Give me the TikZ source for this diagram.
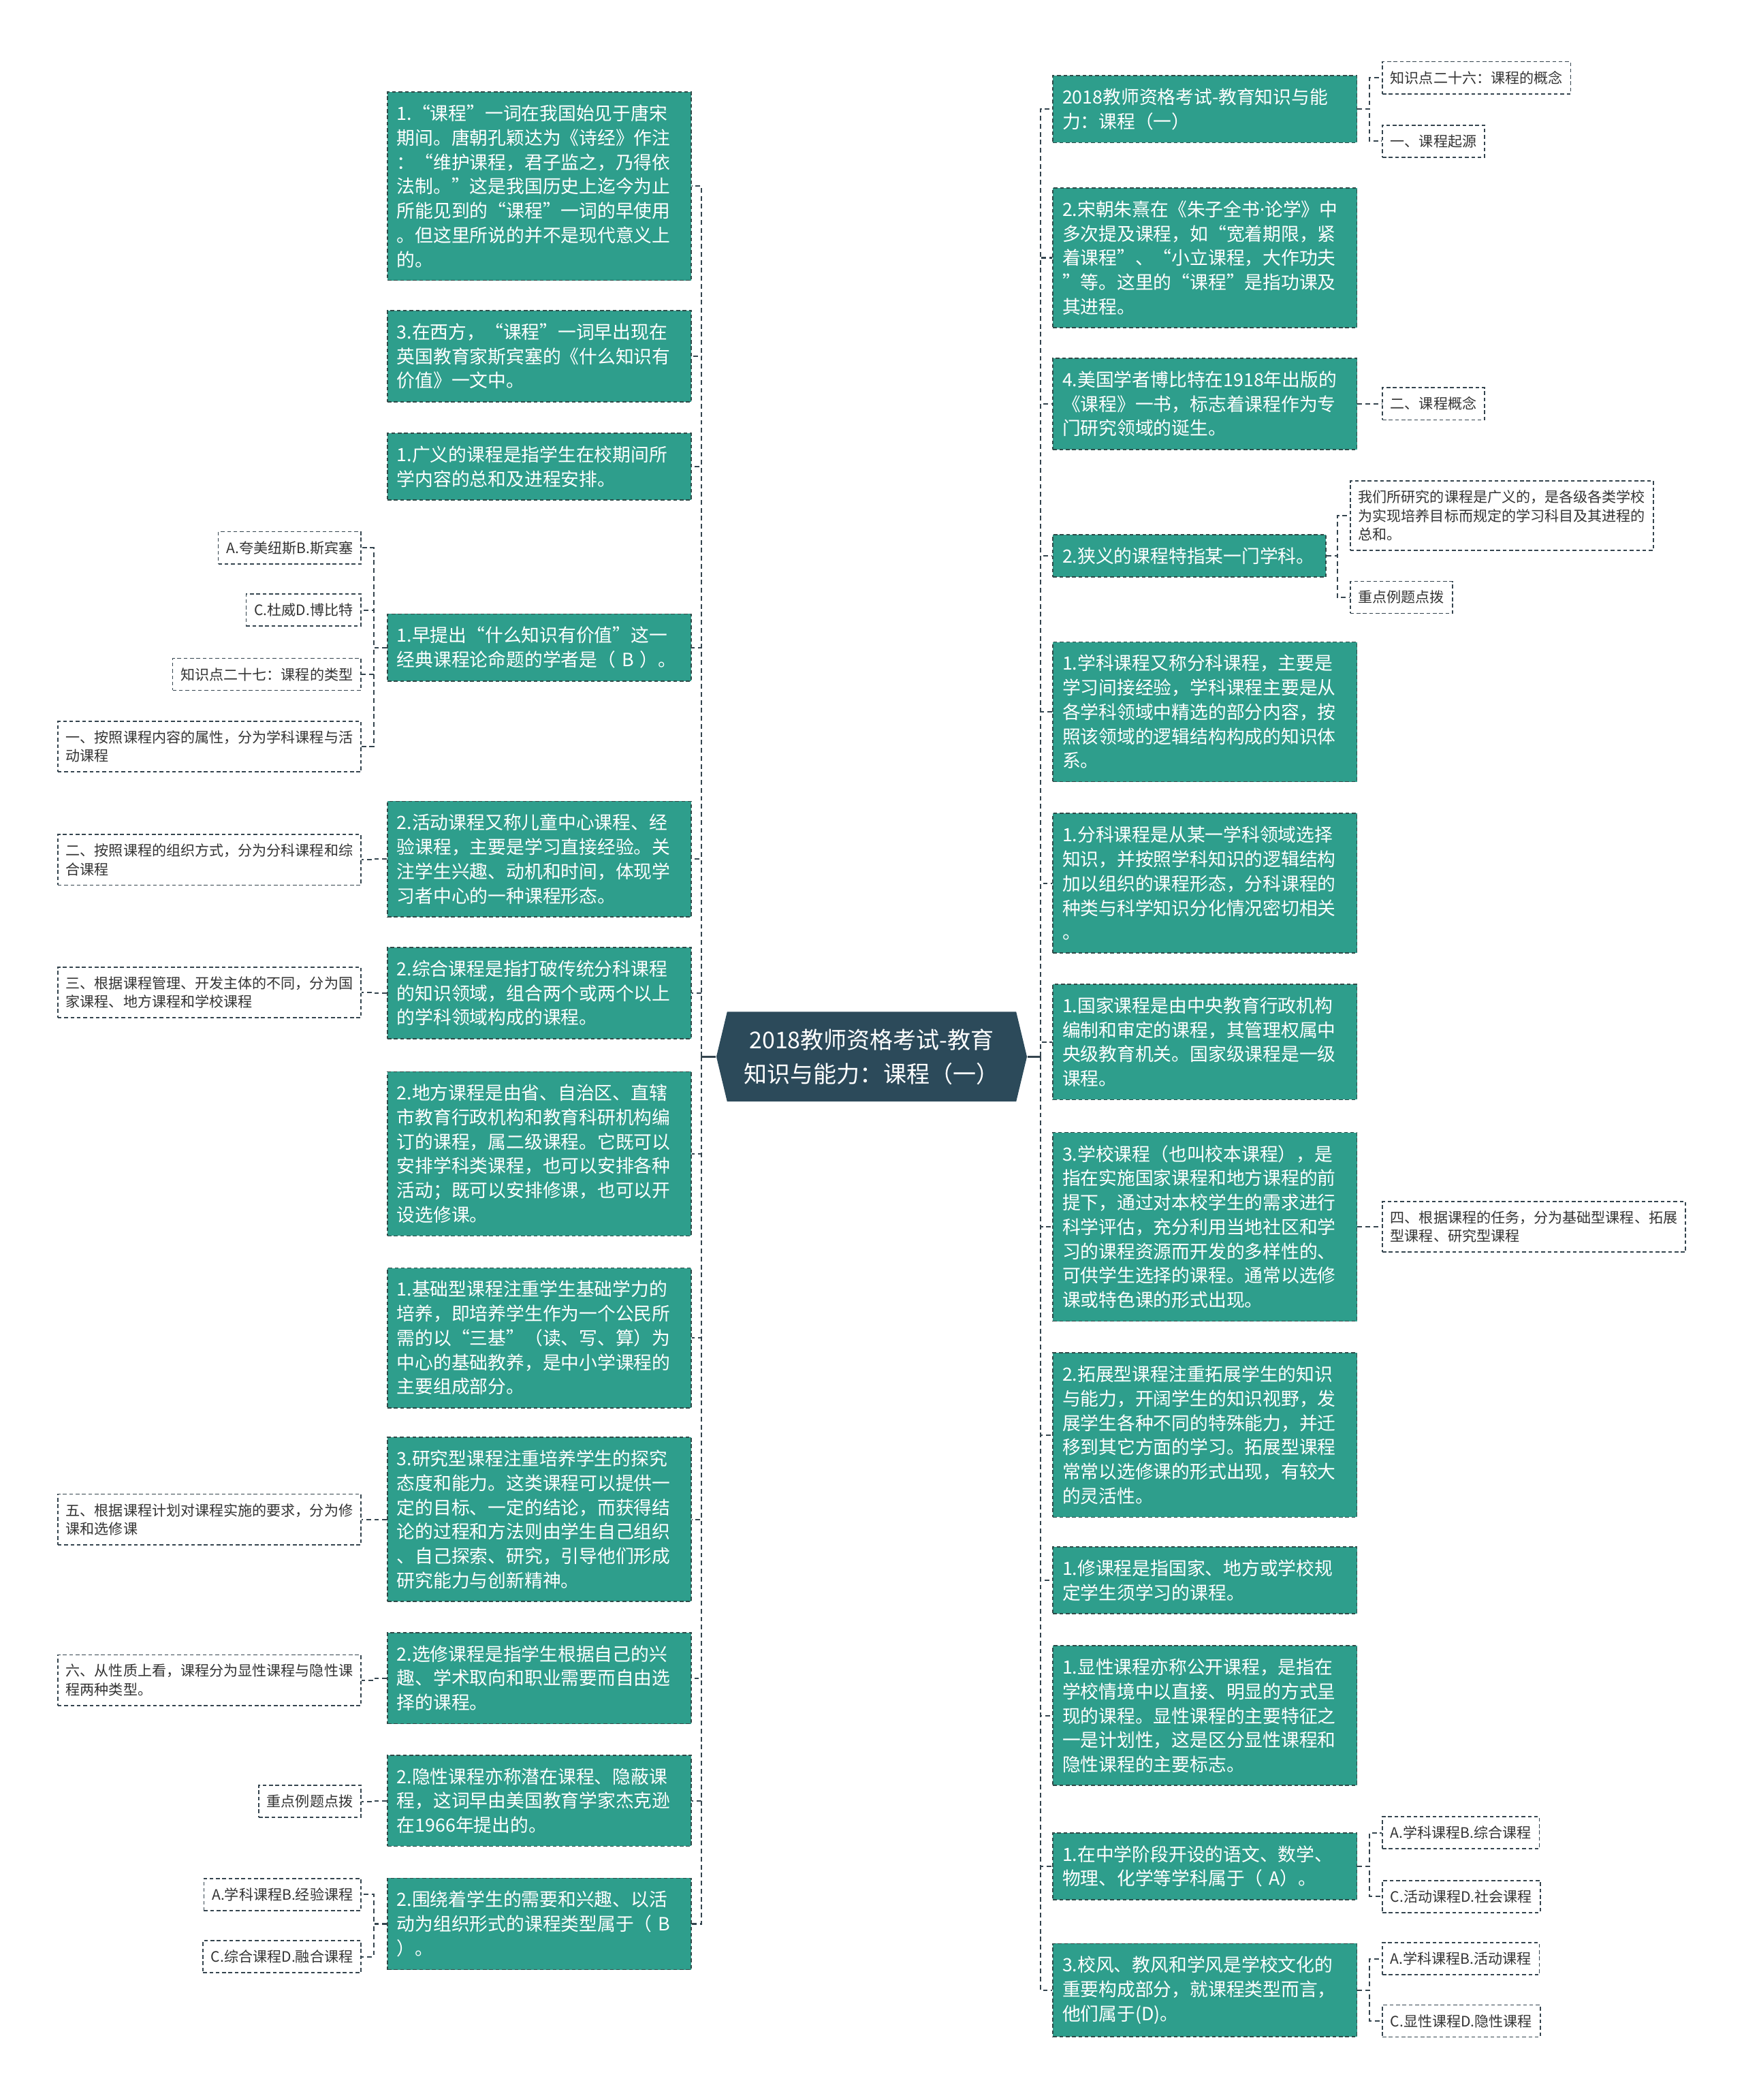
\documentclass[tikz,border=0pt]{standalone}
\usepackage{fontspec}
\setmainfont{Noto Sans CJK SC}
\newfontfamily\latinfont{Noto Sans}
\usepackage{tikz}
\usetikzlibrary{shapes.symbols, positioning}
\definecolor{Teal}  {HTML}{2E9E8C}
\definecolor{Slate} {HTML}{2C4A5A}
\definecolor{Edge}  {HTML}{2F4A48}
\definecolor{Grey}  {HTML}{34444E}
\definecolor{Ink}   {HTML}{333333}

\tikzset{
  card/.style={rectangle, fill=Teal, draw=Edge, dash pattern=on 1.6pt off 1.1pt,
               line width=0.5pt, text=white, align=left,
               font=\fontsize{7.75pt}{10.35pt}\selectfont,
               text width=4.26cm, inner xsep=0.14cm, inner ysep=0.19cm},
  leaf/.style={rectangle, fill=white, draw=Grey, dash pattern=on 1.6pt off 1.1pt,
               line width=0.5pt, text=Ink, align=left,
               font=\fontsize{6.1pt}{7.9pt}\selectfont,
               inner xsep=0.12cm, inner ysep=0.14cm},
  hub/.style={shape=signal, signal to=west and east, signal pointer angle=153,
              fill=Slate, text=white, align=center, inner sep=0pt,
              font=\fontsize{9.85pt}{14.5pt}\selectfont,
              minimum width=4.64cm, minimum height=1.34cm},
  link/.style={draw=Grey, dash pattern=on 2pt off 1.4pt, line width=0.6pt},
  stub/.style={draw=Grey, line width=0.8pt}
}

\begin{document}
\begin{tikzpicture}[x=0.02cm, y=-0.02cm]
  \useasboundingbox (0,0) rectangle (1302,1568);

  \node[hub] (root) at (651,789) {2018教师资格考试-教育\\知识与能力：课程（一）};
  \coordinate (lbus) at (524,789);
  \coordinate (rbus) at (777,789);
  \draw[stub] (root.west) -- (lbus);
  \draw[stub] (root.east) -- (rbus);

  % left cards
  \node[card, anchor=west] (l1)  at (289,139)    {1.“课程”一词在我国始见于唐宋\\期间。唐朝孔颖达为《诗经》作注\\：“维护课程，君子监之，乃得依\\法制。”这是我国历史上迄今为止\\所能见到的“课程”一词的早使用\\。但这里所说的并不是现代意义上\\的。};
  \node[card, anchor=west] (l2)  at (289,266)    {3.在西方，“课程”一词早出现在\\英国教育家斯宾塞的《什么知识有\\价值》一文中。};
  \node[card, anchor=west] (l3)  at (289,348.5)  {1.广义的课程是指学生在校期间所\\学内容的总和及进程安排。};
  \node[card, anchor=west] (l4)  at (289,483.5)  {1.早提出“什么知识有价值”这一\\经典课程论命题的学者是（ B ）。};
  \node[card, anchor=west] (l5)  at (289,641.5)  {2.活动课程又称儿童中心课程、经\\验课程，主要是学习直接经验。关\\注学生兴趣、动机和时间，体现学\\习者中心的一种课程形态。};
  \node[card, anchor=west] (l6)  at (289,741.5)  {2.综合课程是指打破传统分科课程\\的知识领域，组合两个或两个以上\\的学科领域构成的课程。};
  \node[card, anchor=west] (l7)  at (289,861.5)  {2.地方课程是由省、自治区、直辖\\市教育行政机构和教育科研机构编\\订的课程，属二级课程。它既可以\\安排学科类课程，也可以安排各种\\活动；既可以安排修课，也可以开\\设选修课。};
  \node[card, anchor=west] (l8)  at (289,999)    {1.基础型课程注重学生基础学力的\\培养，即培养学生作为一个公民所\\需的以“三基”（读、写、算）为\\中心的基础教养，是中小学课程的\\主要组成部分。};
  \node[card, anchor=west] (l9)  at (289,1134.5) {3.研究型课程注重培养学生的探究\\态度和能力。这类课程可以提供一\\定的目标、一定的结论，而获得结\\论的过程和方法则由学生自己组织\\、自己探索、研究，引导他们形成\\研究能力与创新精神。};
  \node[card, anchor=west] (l10) at (289,1253)   {2.选修课程是指学生根据自己的兴\\趣、学术取向和职业需要而自由选\\择的课程。};
  \node[card, anchor=west] (l11) at (289,1344.5) {2.隐性课程亦称潜在课程、隐蔽课\\程，这词早由美国教育学家杰克逊\\在1966年提出的。};
  \node[card, anchor=west] (l12) at (289,1436.5) {2.围绕着学生的需要和兴趣、以活\\动为组织形式的课程类型属于（ B\\）。};

  % right cards
  \node[card, anchor=west] (r1)  at (786,81.5)   {2018教师资格考试-教育知识与能\\力：课程（一）};
  \node[card, anchor=west] (r2)  at (786,192.5)  {2.宋朝朱熹在《朱子全书{\latinfont ·}论学》中\\多次提及课程，如“宽着期限，紧\\着课程”、“小立课程，大作功夫\\”等。这里的“课程”是指功课及\\其进程。};
  \node[card, anchor=west] (r3)  at (786,301.5)  {4.美国学者博比特在1918年出版的\\《课程》一书，标志着课程作为专\\门研究领域的诞生。};
  \node[card, anchor=west, text width=3.8cm] (r4) at (786,415) {2.狭义的课程特指某一门学科。};
  \node[card, anchor=west] (r5)  at (786,531.5)  {1.学科课程又称分科课程，主要是\\学习间接经验，学科课程主要是从\\各学科领域中精选的部分内容，按\\照该领域的逻辑结构构成的知识体\\系。};
  \node[card, anchor=west] (r6)  at (786,659.5)  {1.分科课程是从某一学科领域选择\\知识，并按照学科知识的逻辑结构\\加以组织的课程形态，分科课程的\\种类与科学知识分化情况密切相关\\。};
  \node[card, anchor=west] (r7)  at (786,778)    {1.国家课程是由中央教育行政机构\\编制和审定的课程，其管理权属中\\央级教育机关。国家级课程是一级\\课程。};
  \node[card, anchor=west] (r8)  at (786,916)    {3.学校课程（也叫校本课程），是\\指在实施国家课程和地方课程的前\\提下，通过对本校学生的需求进行\\科学评估，充分利用当地社区和学\\习的课程资源而开发的多样性的、\\可供学生选择的课程。通常以选修\\课或特色课的形式出现。};
  \node[card, anchor=west] (r9)  at (786,1071.5) {2.拓展型课程注重拓展学生的知识\\与能力，开阔学生的知识视野，发\\展学生各种不同的特殊能力，并迁\\移到其它方面的学习。拓展型课程\\常常以选修课的形式出现，有较大\\的灵活性。};
  \node[card, anchor=west] (r10) at (786,1180)   {1.修课程是指国家、地方或学校规\\定学生须学习的课程。};
  \node[card, anchor=west] (r11) at (786,1281)   {1.显性课程亦称公开课程，是指在\\学校情境中以直接、明显的方式呈\\现的课程。显性课程的主要特征之\\一是计划性，这是区分显性课程和\\隐性课程的主要标志。};
  \node[card, anchor=west] (r12) at (786,1393.5) {1.在中学阶段开设的语文、数学、\\物理、化学等学科属于（ A）。};
  \node[card, anchor=west] (r13) at (786,1486)   {3.校风、教风和学风是学校文化的\\重要构成部分，就课程类型而言，\\他们属于(D)。};

  % left leaves
  \node[leaf, anchor=east] (q1a)   at (270,409)    {A.夸美纽斯B.斯宾塞};
  \node[leaf, anchor=east] (q1c)   at (270,455.5)  {C.杜威D.博比特};
  \node[leaf, anchor=east] (kp27)  at (270,503.5)  {知识点二十七：课程的类型};
  \node[leaf, anchor=east] (type1) at (270,557.5)  {一、按照课程内容的属性，分为学科课程与活\\动课程};
  \node[leaf, anchor=east] (type2) at (270,642)    {二、按照课程的组织方式，分为分科课程和综\\合课程};
  \node[leaf, anchor=east] (type3) at (270,741)    {三、根据课程管理、开发主体的不同，分为国\\家课程、地方课程和学校课程};
  \node[leaf, anchor=east] (type5) at (270,1134.5) {五、根据课程计划对课程实施的要求，分为修\\课和选修课};
  \node[leaf, anchor=east] (type6) at (270,1254.5) {六、从性质上看，课程分为显性课程与隐性课\\程两种类型。};
  \node[leaf, anchor=east] (tipl)  at (270,1345)   {重点例题点拨};
  \node[leaf, anchor=east] (q2a)   at (270,1414.5) {A.学科课程B.经验课程};
  \node[leaf, anchor=east] (q2c)   at (270,1461)   {C.综合课程D.融合课程};

  % right leaves
  \node[leaf, anchor=west] (kp26)  at (1032,58)    {知识点二十六：课程的概念};
  \node[leaf, anchor=west] (part1) at (1032,105.5) {一、课程起源};
  \node[leaf, anchor=west] (part2) at (1032,301.5) {二、课程概念};
  \node[leaf, anchor=west] (wide)  at (1008,385)   {我们所研究的课程是广义的，是各级各类学校\\为实现培养目标而规定的学习科目及其进程的\\总和。};
  \node[leaf, anchor=west] (tipr)  at (1008,446)   {重点例题点拨};
  \node[leaf, anchor=west] (type4) at (1032,916)   {四、根据课程的任务，分为基础型课程、拓展\\型课程、研究型课程};
  \node[leaf, anchor=west] (q3a)   at (1032,1368.5) {A.学科课程B.综合课程};
  \node[leaf, anchor=west] (q3c)   at (1032,1416)   {C.活动课程D.社会课程};
  \node[leaf, anchor=west] (q4a)   at (1032,1462.5) {A.学科课程B.活动课程};
  \node[leaf, anchor=west] (q4c)   at (1032,1509)   {C.显性课程D.隐性课程};

  % links
  \foreach \n in {l1,l2,l3,l4,l5,l6,l7,l8,l9,l10,l11,l12}
    \draw[link] (lbus) |- (\n.east);
  \foreach \n in {r1,r2,r3,r4,r5,r6,r7,r8,r9,r10,r11,r12,r13}
    \draw[link] (rbus) |- (\n.west);
  \foreach \n in {q1a,q1c,kp27,type1}
    \draw[link] (l4.west) -- ++(-10,0) |- (\n.east);
  \draw[link] (l5.west) -- ++(-10,0) |- (type2.east);
  \draw[link] (l6.west) -- ++(-10,0) |- (type3.east);
  \draw[link] (l9.west) -- ++(-10,0) |- (type5.east);
  \draw[link] (l10.west) -- ++(-10,0) |- (type6.east);
  \draw[link] (l11.west) -- ++(-10,0) |- (tipl.east);
  \foreach \n in {q2a,q2c}
    \draw[link] (l12.west) -- ++(-10,0) |- (\n.east);
  \foreach \n in {kp26,part1}
    \draw[link] (r1.east) -- ++(9,0) |- (\n.west);
  \draw[link] (r3.east) -- ++(9,0) |- (part2.west);
  \foreach \n in {wide,tipr}
    \draw[link] (r4.east) -- ++(8,0) |- (\n.west);
  \draw[link] (r8.east) -- ++(9,0) |- (type4.west);
  \foreach \n in {q3a,q3c}
    \draw[link] (r12.east) -- ++(9,0) |- (\n.west);
  \foreach \n in {q4a,q4c}
    \draw[link] (r13.east) -- ++(9,0) |- (\n.west);
\end{tikzpicture}
\end{document}
